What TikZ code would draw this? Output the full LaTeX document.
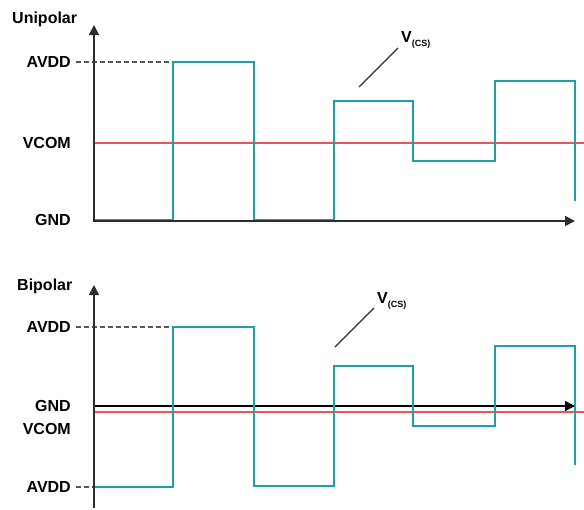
\documentclass[tikz,border=0pt]{standalone}
\usepackage{fontspec}
\setmainfont{Liberation Sans}
\usepackage{tikz}
\usetikzlibrary{arrows.meta,positioning}
\definecolor{wave}{RGB}{30,160,170}
\definecolor{vcom}{RGB}{240,80,88}
\definecolor{axis}{RGB}{45,45,45}
\newcommand{\Vcs}{V\raisebox{-0.55ex}{\fontsize{9}{10}\selectfont(CS)}}

\begin{document}
\begin{tikzpicture}[x=1pt,y=-1pt,
    lbl/.style={font=\fontsize{16}{18}\selectfont\bfseries,inner sep=0pt},
    axline/.style={draw=axis,line width=1.5pt,-{Triangle[length=10pt,width=10pt]}},
    wavepath/.style={draw=wave,line width=1.6pt},
    comline/.style={draw=vcom,line width=1.5pt},
    lead/.style={draw=axis!80,line width=1.3pt,dash pattern=on 4.5pt off 3.5pt}]
        \useasboundingbox (0,0) rectangle (584,509);
        % unipolar
        \node[lbl,anchor=base west] (UNI) at (12,23) {Unipolar};
        \node[lbl,anchor=east] (UA) at (71,62) {AVDD};
        \node[lbl,anchor=east] (UC) at (71,143) {VCOM};
        \node[lbl,anchor=east] (UG) at (71,220) {GND};
        \coordinate (UO) at (94,221);
        \coordinate (UY) at (94,25);
        \coordinate (UX) at (575,221);
        \draw [comline] (95,143) -- (584,143);
        \draw [lead] (UA.east) ++(5,0) -- (173,62);
        \draw [wavepath] (95,220) -- (173,220) -- (173,62) -- (254,62) -- (254,220) -- (334,220)
            -- (334,101) -- (413,101) -- (413,161) -- (495,161) -- (495,81) -- (575,81) -- (575,201);
        \draw [axline] (UO) -- (UY);
        \draw [axline] (93.3,221) -- (UX);
        \node[lbl,anchor=base west] (UV) at (401,42) {\Vcs};
        \coordinate (UL) at (359,87);
        \draw [axis,line width=1.1pt] (UL) -- (398,48);
        % bipolar
        \node[lbl,anchor=base west] (BIP) at (17,290) {Bipolar};
        \node[lbl,anchor=east] (BA) at (71,327) {AVDD};
        \node[lbl,anchor=east] (BG) at (71,406) {GND};
        \node[lbl,anchor=east] (BC) at (71,429) {VCOM};
        \node[lbl,anchor=east] (BL) at (71,487) {AVDD};
        \coordinate (BO) at (94,508);
        \coordinate (BY) at (94,285);
        \coordinate (BX) at (575,406);
        \draw [comline] (95,412) -- (584,412);
        \draw [lead] (BA.east) ++(5,0) -- (173,327);
        \draw [lead] (BL.east) ++(5,0) -- (94,487);
        \draw [axline,draw=black] (94,406) -- (BX);
        \draw [wavepath] (95,487) -- (173,487) -- (173,327) -- (254,327) -- (254,486) -- (334,486)
            -- (334,366) -- (413,366) -- (413,426) -- (495,426) -- (495,346) -- (575,346) -- (575,465);
        \draw [axline] (BO) -- (BY);
        \node[lbl,anchor=base west] (BV) at (377,303) {\Vcs};
        \coordinate (BLd) at (335,347);
        \draw [axis,line width=1.1pt] (BLd) -- (374,308);
\end{tikzpicture}
\end{document}
